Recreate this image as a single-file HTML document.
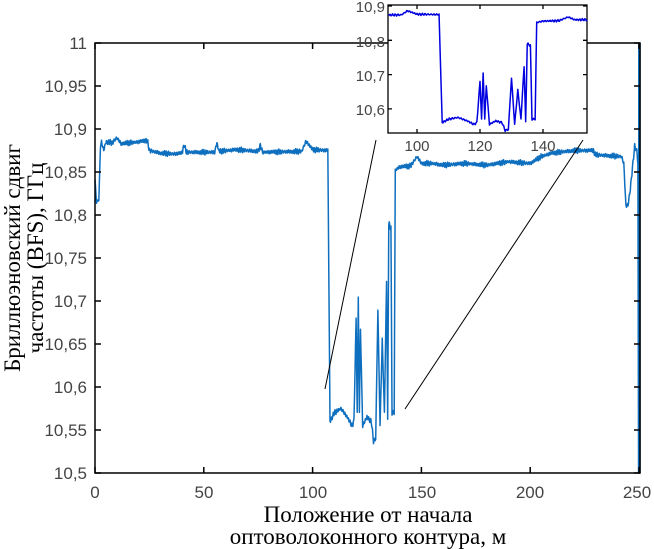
<!DOCTYPE html>
<html><head><meta charset="utf-8"><style>
html,body{margin:0;padding:0;background:#fff;}
svg{display:block}
.t{font-family:"Liberation Sans",sans-serif;font-size:17px;fill:#444}
.ti{font-family:"Liberation Sans",sans-serif;font-size:15px;fill:#444}
.lab{font-family:"Liberation Serif",serif;font-size:23px;fill:#000}
</style></head><body>
<svg id="s" width="654" height="549" viewBox="0 0 654 549" xmlns="http://www.w3.org/2000/svg">
<rect width="654" height="549" fill="#fff"/>
<g id="main"></g>
<g stroke="#000" stroke-width="1.5" fill="none">
<path d="M95,43 H640 V473 H95 Z"/>
</g>
<g id="ticks" stroke="#000" stroke-width="1.5"></g>
<line x1="325" y1="389" x2="376" y2="140" stroke="#000" stroke-width="1"/>
<line x1="405" y1="409" x2="583" y2="140" stroke="#000" stroke-width="1"/>
<rect x="388" y="5" width="199" height="128" fill="#fff" stroke="#000" stroke-width="1.3"/>
<g id="inset"></g>
<text class="lab" x="368" y="522" text-anchor="middle">Положение от начала</text>
<text class="lab" x="368" y="544" text-anchor="middle">оптоволоконного контура, м</text>
<g transform="translate(20,258) rotate(-90)">
<text class="lab" x="0" y="0" text-anchor="middle">Бриллюэновский сдвиг</text>
<text class="lab" x="0" y="23" text-anchor="middle">частоты (BFS), ГГц</text>
</g>
<text class="t" x="87" y="49" text-anchor="end">11</text>
<text class="t" x="87" y="92" text-anchor="end">10,95</text>
<text class="t" x="87" y="135" text-anchor="end">10,9</text>
<text class="t" x="87" y="178" text-anchor="end">10,85</text>
<text class="t" x="87" y="221" text-anchor="end">10,8</text>
<text class="t" x="87" y="264" text-anchor="end">10,75</text>
<text class="t" x="87" y="307" text-anchor="end">10,7</text>
<text class="t" x="87" y="350" text-anchor="end">10,65</text>
<text class="t" x="87" y="393" text-anchor="end">10,6</text>
<text class="t" x="87" y="436" text-anchor="end">10,55</text>
<text class="t" x="87" y="479" text-anchor="end">10,5</text>
<text class="t" x="95" y="498" text-anchor="middle">0</text>
<text class="t" x="204" y="498" text-anchor="middle">50</text>
<text class="t" x="313" y="498" text-anchor="middle">100</text>
<text class="t" x="422" y="498" text-anchor="middle">150</text>
<text class="t" x="530" y="498" text-anchor="middle">200</text>
<text class="t" x="637" y="498" text-anchor="middle">250</text>
<text class="ti" x="385" y="12" text-anchor="end">10,9</text>
<text class="ti" x="385" y="47" text-anchor="end">10,8</text>
<text class="ti" x="385" y="81" text-anchor="end">10,7</text>
<text class="ti" x="385" y="115" text-anchor="end">10,6</text>
<text class="ti" x="417" y="151" text-anchor="middle">100</text>
<text class="ti" x="480" y="151" text-anchor="middle">120</text>
<text class="ti" x="543" y="151" text-anchor="middle">140</text>
</svg>
<script>
var K=[[0,10.84],[0.7,10.815],[1.8,10.818],[2.5,10.88],[3,10.885],[4,10.875],[5,10.885],[8,10.884],[10,10.89],[12,10.883],[16,10.884],[20,10.885],[24,10.887],[25,10.875],[30,10.872],[36,10.871],[40,10.872],[41,10.882],[42,10.873],[55,10.873],[56,10.884],[57,10.874],[65,10.876],[75,10.874],[76,10.881],[77,10.873],[95,10.874],[97,10.886],[100,10.876],[107,10.875],[108,10.56],[110,10.57],[113,10.575],[116,10.565],[118,10.555],[119,10.56],[120,10.68],[120.5,10.57],[121,10.705],[121.5,10.57],[122,10.668],[123,10.555],[125,10.565],[127,10.56],[128,10.537],[129,10.54],[130,10.69],[131,10.555],[132,10.655],[133,10.57],[134,10.725],[134.5,10.56],[135,10.79],[136,10.785],[136.5,10.57],[137.5,10.57],[138,10.852],[140,10.856],[145,10.857],[148,10.868],[150,10.86],[155,10.86],[160,10.858],[170,10.86],[180,10.858],[190,10.862],[200,10.86],[205,10.868],[210,10.872],[220,10.875],[229,10.875],[230,10.87],[242,10.868],[243,10.86],[244,10.81],[245,10.812],[246,10.83],[248,10.88],[249,10.875],[249.5,10.86],[249.8,10.5],[249.9,11]];
function interp(x){for(var i=1;i<K.length;i++){if(x<=K[i][0]){var a=K[i-1],b=K[i];var t=(x-a[0])/(b[0]-a[0]);return a[1]+t*(b[1]-a[1]);}}return K[K.length-1][1];}
function noise(x){return 0.0018*Math.sin(x*7.3)+0.0012*Math.sin(x*17.1+1)+0.001*Math.sin(x*31.7);}
var xs=[];for(var i=0;i<K.length;i++)xs.push(K[i][0]);
for(var x=0;x<249.5;x+=0.25)xs.push(x);
xs.sort(function(a,b){return a-b});
var pts=[],ipts=[];
xs.forEach(function(x){var v=interp(x);if(x<249.7)v+=noise(x);
pts.push((95+2.176*x).toFixed(2)+','+(43+(11-v)*860).toFixed(2));
if(x>=90.8&&x<=154)ipts.push((417+3.15*(x-100)).toFixed(2)+','+(6+(10.9-v)*343).toFixed(2));});
var NS='http://www.w3.org/2000/svg';
function pl(g,p,c,w){var e=document.createElementNS(NS,'polyline');e.setAttribute('points',p.join(' '));e.setAttribute('fill','none');e.setAttribute('stroke',c);e.setAttribute('stroke-width',w);e.setAttribute('stroke-linejoin','round');document.getElementById(g).appendChild(e);}
pl('main',pts,'#0f6fbf',1.5);
pl('main',['639.5,473','639.5,43'],'#0f6fbf',2.5);
pl('inset',ipts,'#0000e0',1.5);
var tg=document.getElementById('ticks'),d='';
[0,50,100,150,200,250].forEach(function(m){var x=95+2.176*m;d+='M'+x+',473v-6M'+x+',43v6';});
for(var k=0;k<=10;k++){var y=43+k*43;d+='M95,'+y+'h6M640,'+y+'h-6';}
var p=document.createElementNS(NS,'path');p.setAttribute('d',d);tg.appendChild(p);
var di='';[100,120,140].forEach(function(m){var x=417+3.15*(m-100);di+='M'+x+',133v-4M'+x+',5v4';});
[10.9,10.8,10.7,10.6].forEach(function(v){var y=6+(10.9-v)*343;di+='M388,'+y+'h4M587,'+y+'h-4';});
var p2=document.createElementNS(NS,'path');p2.setAttribute('d',di);p2.setAttribute('stroke','#000');p2.setAttribute('stroke-width','1.3');document.getElementById('inset').appendChild(p2);
</script>
</body></html>
